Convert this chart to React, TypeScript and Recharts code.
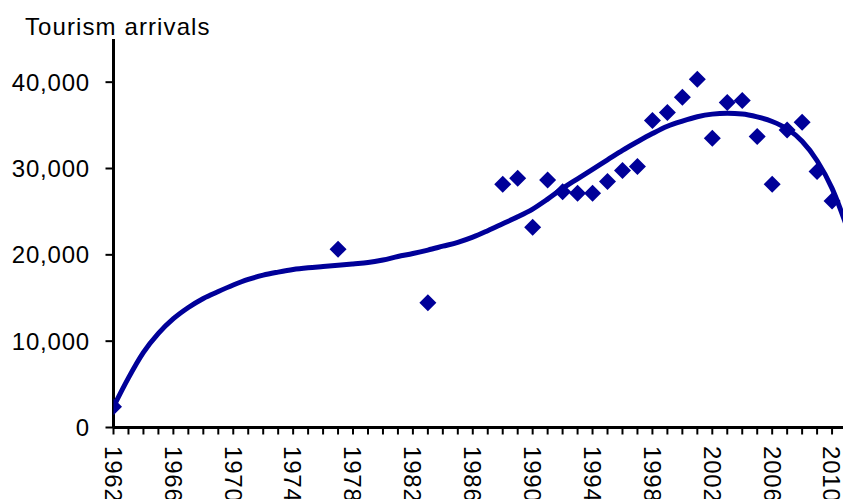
import React from "react";
import { ComposedChart, Line, Scatter, XAxis, YAxis } from "recharts";

const pointYears = [1962, 1977, 1983, 1988, 1989, 1990, 1991, 1992, 1993, 1994, 1995, 1996, 1997, 1998, 1999, 2000, 2001, 2002, 2003, 2004, 2005, 2006, 2007, 2008, 2009, 2010];
const pointArrivals = [2400, 20650, 14460, 28180, 28880, 23200, 28680, 27320, 27140, 27140, 28480, 29760, 30220, 35550, 36480, 38260, 40350, 33510, 37640, 37870, 33700, 28180, 34470, 35370, 29640, 26250];

const trendYears = [1962, 1963, 1964, 1965, 1966, 1967, 1968, 1969, 1970, 1971, 1972, 1973, 1974, 1975, 1976, 1977, 1978, 1979, 1980, 1981, 1982, 1983, 1984, 1985, 1986, 1987, 1988, 1989, 1990, 1991, 1992, 1993, 1994, 1995, 1996, 1997, 1998, 1999, 2000, 2001, 2002, 2003, 2004, 2005, 2006, 2007, 2008, 2009, 2010, 2011];
const trendValues = [2400, 5750, 8700, 10900, 12600, 13900, 14950, 15750, 16500, 17150, 17650, 18000, 18300, 18500, 18650, 18800, 18950, 19100, 19400, 19800, 20150, 20550, 21000, 21450, 22050, 22800, 23600, 24400, 25300, 26450, 27700, 28800, 29900, 31000, 32100, 33100, 34050, 34900, 35500, 36000, 36300, 36400, 36320, 35980, 35450, 34600, 33150, 30900, 27700, 23200];

const yTicks = [0, 10000, 20000, 30000, 40000];
const xTicks = Array.from({ length: 51 }, (_, i) => 1962 + i);
const labelEvery = 4;

const COLOR = "#000099";
const FONT = "'Liberation Sans', Arial, sans-serif";

const pointData = pointYears.map((year, i) => ({ year, arrivals: pointArrivals[i] }));
const trendData = trendYears.map((year, i) => ({ year, trend: trendValues[i] }));

const fmt = (v: number) => v.toLocaleString("en-US");

const XTick = (props: any) => {
  const { x, y, payload } = props;
  if ((payload.value - 1962) % labelEvery !== 0) return null;
  return (
    <text
      transform={`translate(${x},${y}) rotate(90)`}
      textAnchor="start"
      dy="0.36em"
      fontSize={24}
      fontFamily={FONT}
      letterSpacing={0.8}
      fill="#000"
    >
      {payload.value}
    </text>
  );
};

const YTick = (props: any) => {
  const { x, y, payload } = props;
  return (
    <text
      x={x}
      y={y}
      textAnchor="end"
      dy="0.355em"
      fontSize={24}
      fontFamily={FONT}
      letterSpacing={0.8}
      fill="#000"
    >
      {fmt(payload.value)}
    </text>
  );
};

const Diamond = (props: any) => {
  const { cx, cy } = props;
  const h = 8.5;
  return <path d={`M${cx},${cy - h}L${cx + h},${cy}L${cx},${cy + h}L${cx - h},${cy}Z`} fill={COLOR} />;
};

export default function App() {
  return (
    <div style={{ position: "fixed", left: 0, top: 0, width: 843, height: 499, overflow: "hidden", background: "#fff" }}>
      <div
        style={{
          position: "absolute",
          left: 25,
          top: 15,
          fontFamily: FONT,
          fontSize: 24,
          lineHeight: "24px",
          letterSpacing: 1.1,
          color: "#000",
          whiteSpace: "nowrap",
        }}
      >
        Tourism arrivals
      </div>
      <ComposedChart width={862} height={520} margin={{ top: 39, right: 0, bottom: 0, left: 0 }}>
        <XAxis
          type="number"
          dataKey="year"
          domain={[1962, 2012]}
          ticks={xTicks}
          interval={0}
          allowDataOverflow
          height={92.5}
          tickSize={7}
          tickMargin={11.5}
          axisLine={{ stroke: "#000", strokeWidth: 3 }}
          tickLine={{ stroke: "#000", strokeWidth: 2 }}
          tick={<XTick />}
        />
        <YAxis
          type="number"
          domain={[0, 45000]}
          ticks={yTicks}
          interval={0}
          width={113.5}
          tickSize={8}
          tickMargin={15.5}
          axisLine={{ stroke: "#000", strokeWidth: 3 }}
          tickLine={{ stroke: "#000", strokeWidth: 2 }}
          tick={<YTick />}
        />
        <Line
          data={trendData}
          dataKey="trend"
          type="monotone"
          stroke={COLOR}
          strokeWidth={5}
          dot={false}
          activeDot={false}
          isAnimationActive={false}
        />
        <Scatter data={pointData} dataKey="arrivals" fill={COLOR} shape={<Diamond />} isAnimationActive={false} />
      </ComposedChart>
    </div>
  );
}
